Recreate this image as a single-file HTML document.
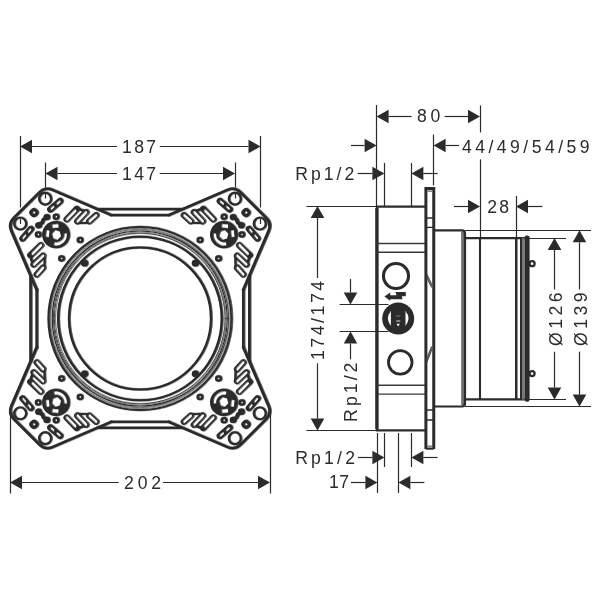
<!DOCTYPE html>
<html><head><meta charset="utf-8"><title>Dimension drawing</title>
<style>html,body{margin:0;padding:0;background:#fff;}svg{display:block;}text{font-family:"Liberation Sans",sans-serif;}svg{will-change:transform;transform:translateZ(0);}</style></head>
<body>
<svg width="600" height="600" viewBox="0 0 600 600">
<rect width="600" height="600" fill="#fff"/>
<line x1="20.50" y1="136.00" x2="20.50" y2="207.50" stroke="#2b2b2b" stroke-width="1.2" stroke-linecap="butt"/>
<line x1="260.50" y1="136.00" x2="260.50" y2="207.50" stroke="#2b2b2b" stroke-width="1.2" stroke-linecap="butt"/>
<line x1="20.50" y1="219.00" x2="20.50" y2="224.00" stroke="#2b2b2b" stroke-width="1.2" stroke-linecap="butt"/>
<line x1="260.50" y1="219.00" x2="260.50" y2="224.00" stroke="#2b2b2b" stroke-width="1.2" stroke-linecap="butt"/>
<polygon points="20.00,146.50 32.00,139.70 32.00,153.30" fill="#2b2b2b"/>
<polygon points="260.50,146.50 248.50,139.70 248.50,153.30" fill="#2b2b2b"/>
<line x1="32.00" y1="146.50" x2="117.00" y2="146.50" stroke="#2b2b2b" stroke-width="1.2" stroke-linecap="butt"/>
<line x1="159.70" y1="146.50" x2="248.50" y2="146.50" stroke="#2b2b2b" stroke-width="1.2" stroke-linecap="butt"/>
<line x1="45.50" y1="162.50" x2="45.50" y2="187.50" stroke="#2b2b2b" stroke-width="1.2" stroke-linecap="butt"/>
<line x1="235.50" y1="162.50" x2="235.50" y2="187.50" stroke="#2b2b2b" stroke-width="1.2" stroke-linecap="butt"/>
<line x1="45.50" y1="193.00" x2="45.50" y2="198.50" stroke="#2b2b2b" stroke-width="1.2" stroke-linecap="butt"/>
<line x1="235.50" y1="193.00" x2="235.50" y2="198.50" stroke="#2b2b2b" stroke-width="1.2" stroke-linecap="butt"/>
<polygon points="45.50,173.50 57.50,166.70 57.50,180.30" fill="#2b2b2b"/>
<polygon points="235.00,173.50 223.00,166.70 223.00,180.30" fill="#2b2b2b"/>
<line x1="57.50" y1="173.50" x2="117.00" y2="173.50" stroke="#2b2b2b" stroke-width="1.2" stroke-linecap="butt"/>
<line x1="159.70" y1="173.50" x2="223.00" y2="173.50" stroke="#2b2b2b" stroke-width="1.2" stroke-linecap="butt"/>
<line x1="10.50" y1="415.00" x2="10.50" y2="493.50" stroke="#2b2b2b" stroke-width="1.2" stroke-linecap="butt"/>
<line x1="270.50" y1="415.00" x2="270.50" y2="493.50" stroke="#2b2b2b" stroke-width="1.2" stroke-linecap="butt"/>
<polygon points="10.00,482.50 22.00,475.70 22.00,489.30" fill="#2b2b2b"/>
<polygon points="270.00,482.50 258.00,475.70 258.00,489.30" fill="#2b2b2b"/>
<line x1="22.00" y1="482.50" x2="118.70" y2="482.50" stroke="#2b2b2b" stroke-width="1.2" stroke-linecap="butt"/>
<line x1="163.00" y1="482.50" x2="258.00" y2="482.50" stroke="#2b2b2b" stroke-width="1.2" stroke-linecap="butt"/>
<g transform="translate(139.75 318.5)"><g id="plate" fill="none" stroke="#2b2b2b" stroke-linejoin="round" stroke-linecap="round">
<g><path d="M-28.75,-103.30 L-87.55,-128.63 Q-94.90,-131.80 -100.56,-126.14 L-126.14,-100.56 Q-131.80,-94.90 -128.63,-87.55 L-103.30,-28.75" stroke-width="2.5"/>
<g><circle cx="-94.85" cy="-119.80" r="6.0" stroke-width="1.9"/>
<circle cx="-83.95" cy="-101.80" r="2.3" stroke-width="2.0"/>
<circle cx="-59.95" cy="-78.50" r="2.3" stroke-width="2.0"/>
<circle cx="-93.15" cy="-101.40" r="3.2" fill="#2b2b2b" stroke="none"/>
<line x1="-79.95" y1="-117.40" x2="-89.55" y2="-109.10" stroke="#2b2b2b" stroke-width="6.2" stroke-linecap="round"/>
<line x1="-80.35" y1="-117.00" x2="-82.95" y2="-114.80" stroke="#fff" stroke-width="2.5" stroke-linecap="round"/>
<line x1="-86.65" y1="-111.60" x2="-88.85" y2="-109.70" stroke="#fff" stroke-width="2.5" stroke-linecap="round"/>
<line x1="-73.25" y1="-99.20" x2="-63.25" y2="-109.60" stroke="#2b2b2b" stroke-width="6.1" stroke-linecap="round"/>
<line x1="-62.65" y1="-97.10" x2="-53.95" y2="-106.30" stroke="#2b2b2b" stroke-width="6.1" stroke-linecap="round"/>
<line x1="-50.65" y1="-97.20" x2="-43.95" y2="-103.20" stroke="#2b2b2b" stroke-width="6.1" stroke-linecap="round"/>
<line x1="-62.65" y1="-109.90" x2="-56.65" y2="-107.90" stroke="#2b2b2b" stroke-width="2.2" stroke-linecap="round"/>
<line x1="-61.25" y1="-95.30" x2="-50.65" y2="-95.60" stroke="#2b2b2b" stroke-width="1.8" stroke-linecap="round"/>
<line x1="-73.25" y1="-99.20" x2="-64.95" y2="-107.60" stroke="#fff" stroke-width="3.2" stroke-linecap="round"/>
<line x1="-62.65" y1="-97.10" x2="-54.15" y2="-106.10" stroke="#fff" stroke-width="3.2" stroke-linecap="round"/>
<line x1="-50.65" y1="-97.20" x2="-44.05" y2="-103.10" stroke="#fff" stroke-width="3.2" stroke-linecap="round"/></g><g transform="matrix(0 1 1 0 0 0)"><circle cx="-94.85" cy="-119.80" r="6.0" stroke-width="1.9"/>
<circle cx="-83.95" cy="-101.80" r="2.3" stroke-width="2.0"/>
<circle cx="-59.95" cy="-78.50" r="2.3" stroke-width="2.0"/>
<circle cx="-93.15" cy="-101.40" r="3.2" fill="#2b2b2b" stroke="none"/>
<line x1="-79.95" y1="-117.40" x2="-89.55" y2="-109.10" stroke="#2b2b2b" stroke-width="6.2" stroke-linecap="round"/>
<line x1="-80.35" y1="-117.00" x2="-82.95" y2="-114.80" stroke="#fff" stroke-width="2.5" stroke-linecap="round"/>
<line x1="-86.65" y1="-111.60" x2="-88.85" y2="-109.70" stroke="#fff" stroke-width="2.5" stroke-linecap="round"/>
<line x1="-73.25" y1="-99.20" x2="-63.25" y2="-109.60" stroke="#2b2b2b" stroke-width="6.1" stroke-linecap="round"/>
<line x1="-62.65" y1="-97.10" x2="-53.95" y2="-106.30" stroke="#2b2b2b" stroke-width="6.1" stroke-linecap="round"/>
<line x1="-50.65" y1="-97.20" x2="-43.95" y2="-103.20" stroke="#2b2b2b" stroke-width="6.1" stroke-linecap="round"/>
<line x1="-62.65" y1="-109.90" x2="-56.65" y2="-107.90" stroke="#2b2b2b" stroke-width="2.2" stroke-linecap="round"/>
<line x1="-61.25" y1="-95.30" x2="-50.65" y2="-95.60" stroke="#2b2b2b" stroke-width="1.8" stroke-linecap="round"/>
<line x1="-73.25" y1="-99.20" x2="-64.95" y2="-107.60" stroke="#fff" stroke-width="3.2" stroke-linecap="round"/>
<line x1="-62.65" y1="-97.10" x2="-54.15" y2="-106.10" stroke="#fff" stroke-width="3.2" stroke-linecap="round"/>
<line x1="-50.65" y1="-97.20" x2="-44.05" y2="-103.10" stroke="#fff" stroke-width="3.2" stroke-linecap="round"/></g>
<rect x="-109.05" y="-108.60" width="5.6" height="5.6" rx="2.2" stroke-width="2.7" transform="rotate(45 -106.05 -105.60)"/>
<polyline points="-93.15,-101.40 -96.65,-98.90 -97.85,-95.60 -102.65,-93.90" stroke-width="3.4"/>
<circle cx="-83.95" cy="-83.90" r="13.7" fill="#2b2b2b" stroke="none"/>
<rect x="-88.35" y="-94.40" width="7" height="3.9" rx="0.6" fill="#fff" stroke="none" transform="rotate(-6 -84.85 -92.70)"/>
<rect x="-94.45" y="-88.30" width="3.9" height="7" rx="0.6" fill="#fff" stroke="none" transform="rotate(6 -92.75 -84.80)"/>
<path d="M-86.36,-74.92 A9.3,9.3 0 0 0 -74.72,-85.03" stroke="#fff" stroke-width="3.5" stroke-linecap="butt"/>
<polygon points="-78.72,-82.18 -82.33,-78.57 -87.26,-79.89 -88.58,-84.82 -84.97,-88.43 -80.04,-87.11" fill="#fff" stroke="none"/></g>
<g transform="scale(-1,1)"><path d="M-28.75,-103.30 L-87.55,-128.63 Q-94.90,-131.80 -100.56,-126.14 L-126.14,-100.56 Q-131.80,-94.90 -128.63,-87.55 L-103.30,-28.75" stroke-width="2.5"/>
<g><circle cx="-94.85" cy="-119.80" r="6.0" stroke-width="1.9"/>
<circle cx="-83.95" cy="-101.80" r="2.3" stroke-width="2.0"/>
<circle cx="-59.95" cy="-78.50" r="2.3" stroke-width="2.0"/>
<circle cx="-93.15" cy="-101.40" r="3.2" fill="#2b2b2b" stroke="none"/>
<line x1="-79.95" y1="-117.40" x2="-89.55" y2="-109.10" stroke="#2b2b2b" stroke-width="6.2" stroke-linecap="round"/>
<line x1="-80.35" y1="-117.00" x2="-82.95" y2="-114.80" stroke="#fff" stroke-width="2.5" stroke-linecap="round"/>
<line x1="-86.65" y1="-111.60" x2="-88.85" y2="-109.70" stroke="#fff" stroke-width="2.5" stroke-linecap="round"/>
<line x1="-73.25" y1="-99.20" x2="-63.25" y2="-109.60" stroke="#2b2b2b" stroke-width="6.1" stroke-linecap="round"/>
<line x1="-62.65" y1="-97.10" x2="-53.95" y2="-106.30" stroke="#2b2b2b" stroke-width="6.1" stroke-linecap="round"/>
<line x1="-50.65" y1="-97.20" x2="-43.95" y2="-103.20" stroke="#2b2b2b" stroke-width="6.1" stroke-linecap="round"/>
<line x1="-62.65" y1="-109.90" x2="-56.65" y2="-107.90" stroke="#2b2b2b" stroke-width="2.2" stroke-linecap="round"/>
<line x1="-61.25" y1="-95.30" x2="-50.65" y2="-95.60" stroke="#2b2b2b" stroke-width="1.8" stroke-linecap="round"/>
<line x1="-73.25" y1="-99.20" x2="-64.95" y2="-107.60" stroke="#fff" stroke-width="3.2" stroke-linecap="round"/>
<line x1="-62.65" y1="-97.10" x2="-54.15" y2="-106.10" stroke="#fff" stroke-width="3.2" stroke-linecap="round"/>
<line x1="-50.65" y1="-97.20" x2="-44.05" y2="-103.10" stroke="#fff" stroke-width="3.2" stroke-linecap="round"/></g><g transform="matrix(0 1 1 0 0 0)"><circle cx="-94.85" cy="-119.80" r="6.0" stroke-width="1.9"/>
<circle cx="-83.95" cy="-101.80" r="2.3" stroke-width="2.0"/>
<circle cx="-59.95" cy="-78.50" r="2.3" stroke-width="2.0"/>
<circle cx="-93.15" cy="-101.40" r="3.2" fill="#2b2b2b" stroke="none"/>
<line x1="-79.95" y1="-117.40" x2="-89.55" y2="-109.10" stroke="#2b2b2b" stroke-width="6.2" stroke-linecap="round"/>
<line x1="-80.35" y1="-117.00" x2="-82.95" y2="-114.80" stroke="#fff" stroke-width="2.5" stroke-linecap="round"/>
<line x1="-86.65" y1="-111.60" x2="-88.85" y2="-109.70" stroke="#fff" stroke-width="2.5" stroke-linecap="round"/>
<line x1="-73.25" y1="-99.20" x2="-63.25" y2="-109.60" stroke="#2b2b2b" stroke-width="6.1" stroke-linecap="round"/>
<line x1="-62.65" y1="-97.10" x2="-53.95" y2="-106.30" stroke="#2b2b2b" stroke-width="6.1" stroke-linecap="round"/>
<line x1="-50.65" y1="-97.20" x2="-43.95" y2="-103.20" stroke="#2b2b2b" stroke-width="6.1" stroke-linecap="round"/>
<line x1="-62.65" y1="-109.90" x2="-56.65" y2="-107.90" stroke="#2b2b2b" stroke-width="2.2" stroke-linecap="round"/>
<line x1="-61.25" y1="-95.30" x2="-50.65" y2="-95.60" stroke="#2b2b2b" stroke-width="1.8" stroke-linecap="round"/>
<line x1="-73.25" y1="-99.20" x2="-64.95" y2="-107.60" stroke="#fff" stroke-width="3.2" stroke-linecap="round"/>
<line x1="-62.65" y1="-97.10" x2="-54.15" y2="-106.10" stroke="#fff" stroke-width="3.2" stroke-linecap="round"/>
<line x1="-50.65" y1="-97.20" x2="-44.05" y2="-103.10" stroke="#fff" stroke-width="3.2" stroke-linecap="round"/></g>
<rect x="-109.05" y="-108.60" width="5.6" height="5.6" rx="2.2" stroke-width="2.7" transform="rotate(45 -106.05 -105.60)"/>
<polyline points="-93.15,-101.40 -96.65,-98.90 -97.85,-95.60 -102.65,-93.90" stroke-width="3.4"/>
<circle cx="-83.95" cy="-83.90" r="13.7" fill="#2b2b2b" stroke="none"/>
<rect x="-88.35" y="-94.40" width="7" height="3.9" rx="0.6" fill="#fff" stroke="none" transform="rotate(-6 -84.85 -92.70)"/>
<rect x="-94.45" y="-88.30" width="3.9" height="7" rx="0.6" fill="#fff" stroke="none" transform="rotate(6 -92.75 -84.80)"/>
<path d="M-86.36,-74.92 A9.3,9.3 0 0 0 -74.72,-85.03" stroke="#fff" stroke-width="3.5" stroke-linecap="butt"/>
<polygon points="-78.72,-82.18 -82.33,-78.57 -87.26,-79.89 -88.58,-84.82 -84.97,-88.43 -80.04,-87.11" fill="#fff" stroke="none"/></g>
<g transform="scale(1,-1)"><path d="M-28.75,-103.30 L-87.55,-128.63 Q-94.90,-131.80 -100.56,-126.14 L-126.14,-100.56 Q-131.80,-94.90 -128.63,-87.55 L-103.30,-28.75" stroke-width="2.5"/>
<g><circle cx="-94.85" cy="-119.80" r="6.0" stroke-width="1.9"/>
<circle cx="-83.95" cy="-101.80" r="2.3" stroke-width="2.0"/>
<circle cx="-59.95" cy="-78.50" r="2.3" stroke-width="2.0"/>
<circle cx="-93.15" cy="-101.40" r="3.2" fill="#2b2b2b" stroke="none"/>
<line x1="-79.95" y1="-117.40" x2="-89.55" y2="-109.10" stroke="#2b2b2b" stroke-width="6.2" stroke-linecap="round"/>
<line x1="-80.35" y1="-117.00" x2="-82.95" y2="-114.80" stroke="#fff" stroke-width="2.5" stroke-linecap="round"/>
<line x1="-86.65" y1="-111.60" x2="-88.85" y2="-109.70" stroke="#fff" stroke-width="2.5" stroke-linecap="round"/>
<line x1="-73.25" y1="-99.20" x2="-63.25" y2="-109.60" stroke="#2b2b2b" stroke-width="6.1" stroke-linecap="round"/>
<line x1="-62.65" y1="-97.10" x2="-53.95" y2="-106.30" stroke="#2b2b2b" stroke-width="6.1" stroke-linecap="round"/>
<line x1="-50.65" y1="-97.20" x2="-43.95" y2="-103.20" stroke="#2b2b2b" stroke-width="6.1" stroke-linecap="round"/>
<line x1="-62.65" y1="-109.90" x2="-56.65" y2="-107.90" stroke="#2b2b2b" stroke-width="2.2" stroke-linecap="round"/>
<line x1="-61.25" y1="-95.30" x2="-50.65" y2="-95.60" stroke="#2b2b2b" stroke-width="1.8" stroke-linecap="round"/>
<line x1="-73.25" y1="-99.20" x2="-64.95" y2="-107.60" stroke="#fff" stroke-width="3.2" stroke-linecap="round"/>
<line x1="-62.65" y1="-97.10" x2="-54.15" y2="-106.10" stroke="#fff" stroke-width="3.2" stroke-linecap="round"/>
<line x1="-50.65" y1="-97.20" x2="-44.05" y2="-103.10" stroke="#fff" stroke-width="3.2" stroke-linecap="round"/></g><g transform="matrix(0 1 1 0 0 0)"><circle cx="-94.85" cy="-119.80" r="6.0" stroke-width="1.9"/>
<circle cx="-83.95" cy="-101.80" r="2.3" stroke-width="2.0"/>
<circle cx="-59.95" cy="-78.50" r="2.3" stroke-width="2.0"/>
<circle cx="-93.15" cy="-101.40" r="3.2" fill="#2b2b2b" stroke="none"/>
<line x1="-79.95" y1="-117.40" x2="-89.55" y2="-109.10" stroke="#2b2b2b" stroke-width="6.2" stroke-linecap="round"/>
<line x1="-80.35" y1="-117.00" x2="-82.95" y2="-114.80" stroke="#fff" stroke-width="2.5" stroke-linecap="round"/>
<line x1="-86.65" y1="-111.60" x2="-88.85" y2="-109.70" stroke="#fff" stroke-width="2.5" stroke-linecap="round"/>
<line x1="-73.25" y1="-99.20" x2="-63.25" y2="-109.60" stroke="#2b2b2b" stroke-width="6.1" stroke-linecap="round"/>
<line x1="-62.65" y1="-97.10" x2="-53.95" y2="-106.30" stroke="#2b2b2b" stroke-width="6.1" stroke-linecap="round"/>
<line x1="-50.65" y1="-97.20" x2="-43.95" y2="-103.20" stroke="#2b2b2b" stroke-width="6.1" stroke-linecap="round"/>
<line x1="-62.65" y1="-109.90" x2="-56.65" y2="-107.90" stroke="#2b2b2b" stroke-width="2.2" stroke-linecap="round"/>
<line x1="-61.25" y1="-95.30" x2="-50.65" y2="-95.60" stroke="#2b2b2b" stroke-width="1.8" stroke-linecap="round"/>
<line x1="-73.25" y1="-99.20" x2="-64.95" y2="-107.60" stroke="#fff" stroke-width="3.2" stroke-linecap="round"/>
<line x1="-62.65" y1="-97.10" x2="-54.15" y2="-106.10" stroke="#fff" stroke-width="3.2" stroke-linecap="round"/>
<line x1="-50.65" y1="-97.20" x2="-44.05" y2="-103.10" stroke="#fff" stroke-width="3.2" stroke-linecap="round"/></g>
<rect x="-109.05" y="-108.60" width="5.6" height="5.6" rx="2.2" stroke-width="2.7" transform="rotate(45 -106.05 -105.60)"/>
<polyline points="-93.15,-101.40 -96.65,-98.90 -97.85,-95.60 -102.65,-93.90" stroke-width="3.4"/>
<circle cx="-83.95" cy="-83.90" r="13.7" fill="#2b2b2b" stroke="none"/>
<rect x="-88.35" y="-94.40" width="7" height="3.9" rx="0.6" fill="#fff" stroke="none" transform="rotate(-6 -84.85 -92.70)"/>
<rect x="-94.45" y="-88.30" width="3.9" height="7" rx="0.6" fill="#fff" stroke="none" transform="rotate(6 -92.75 -84.80)"/>
<path d="M-86.36,-74.92 A9.3,9.3 0 0 0 -74.72,-85.03" stroke="#fff" stroke-width="3.5" stroke-linecap="butt"/>
<polygon points="-78.72,-82.18 -82.33,-78.57 -87.26,-79.89 -88.58,-84.82 -84.97,-88.43 -80.04,-87.11" fill="#fff" stroke="none"/></g>
<g transform="scale(-1,-1)"><path d="M-28.75,-103.30 L-87.55,-128.63 Q-94.90,-131.80 -100.56,-126.14 L-126.14,-100.56 Q-131.80,-94.90 -128.63,-87.55 L-103.30,-28.75" stroke-width="2.5"/>
<g><circle cx="-94.85" cy="-119.80" r="6.0" stroke-width="1.9"/>
<circle cx="-83.95" cy="-101.80" r="2.3" stroke-width="2.0"/>
<circle cx="-59.95" cy="-78.50" r="2.3" stroke-width="2.0"/>
<circle cx="-93.15" cy="-101.40" r="3.2" fill="#2b2b2b" stroke="none"/>
<line x1="-79.95" y1="-117.40" x2="-89.55" y2="-109.10" stroke="#2b2b2b" stroke-width="6.2" stroke-linecap="round"/>
<line x1="-80.35" y1="-117.00" x2="-82.95" y2="-114.80" stroke="#fff" stroke-width="2.5" stroke-linecap="round"/>
<line x1="-86.65" y1="-111.60" x2="-88.85" y2="-109.70" stroke="#fff" stroke-width="2.5" stroke-linecap="round"/>
<line x1="-73.25" y1="-99.20" x2="-63.25" y2="-109.60" stroke="#2b2b2b" stroke-width="6.1" stroke-linecap="round"/>
<line x1="-62.65" y1="-97.10" x2="-53.95" y2="-106.30" stroke="#2b2b2b" stroke-width="6.1" stroke-linecap="round"/>
<line x1="-50.65" y1="-97.20" x2="-43.95" y2="-103.20" stroke="#2b2b2b" stroke-width="6.1" stroke-linecap="round"/>
<line x1="-62.65" y1="-109.90" x2="-56.65" y2="-107.90" stroke="#2b2b2b" stroke-width="2.2" stroke-linecap="round"/>
<line x1="-61.25" y1="-95.30" x2="-50.65" y2="-95.60" stroke="#2b2b2b" stroke-width="1.8" stroke-linecap="round"/>
<line x1="-73.25" y1="-99.20" x2="-64.95" y2="-107.60" stroke="#fff" stroke-width="3.2" stroke-linecap="round"/>
<line x1="-62.65" y1="-97.10" x2="-54.15" y2="-106.10" stroke="#fff" stroke-width="3.2" stroke-linecap="round"/>
<line x1="-50.65" y1="-97.20" x2="-44.05" y2="-103.10" stroke="#fff" stroke-width="3.2" stroke-linecap="round"/></g><g transform="matrix(0 1 1 0 0 0)"><circle cx="-94.85" cy="-119.80" r="6.0" stroke-width="1.9"/>
<circle cx="-83.95" cy="-101.80" r="2.3" stroke-width="2.0"/>
<circle cx="-59.95" cy="-78.50" r="2.3" stroke-width="2.0"/>
<circle cx="-93.15" cy="-101.40" r="3.2" fill="#2b2b2b" stroke="none"/>
<line x1="-79.95" y1="-117.40" x2="-89.55" y2="-109.10" stroke="#2b2b2b" stroke-width="6.2" stroke-linecap="round"/>
<line x1="-80.35" y1="-117.00" x2="-82.95" y2="-114.80" stroke="#fff" stroke-width="2.5" stroke-linecap="round"/>
<line x1="-86.65" y1="-111.60" x2="-88.85" y2="-109.70" stroke="#fff" stroke-width="2.5" stroke-linecap="round"/>
<line x1="-73.25" y1="-99.20" x2="-63.25" y2="-109.60" stroke="#2b2b2b" stroke-width="6.1" stroke-linecap="round"/>
<line x1="-62.65" y1="-97.10" x2="-53.95" y2="-106.30" stroke="#2b2b2b" stroke-width="6.1" stroke-linecap="round"/>
<line x1="-50.65" y1="-97.20" x2="-43.95" y2="-103.20" stroke="#2b2b2b" stroke-width="6.1" stroke-linecap="round"/>
<line x1="-62.65" y1="-109.90" x2="-56.65" y2="-107.90" stroke="#2b2b2b" stroke-width="2.2" stroke-linecap="round"/>
<line x1="-61.25" y1="-95.30" x2="-50.65" y2="-95.60" stroke="#2b2b2b" stroke-width="1.8" stroke-linecap="round"/>
<line x1="-73.25" y1="-99.20" x2="-64.95" y2="-107.60" stroke="#fff" stroke-width="3.2" stroke-linecap="round"/>
<line x1="-62.65" y1="-97.10" x2="-54.15" y2="-106.10" stroke="#fff" stroke-width="3.2" stroke-linecap="round"/>
<line x1="-50.65" y1="-97.20" x2="-44.05" y2="-103.10" stroke="#fff" stroke-width="3.2" stroke-linecap="round"/></g>
<rect x="-109.05" y="-108.60" width="5.6" height="5.6" rx="2.2" stroke-width="2.7" transform="rotate(45 -106.05 -105.60)"/>
<polyline points="-93.15,-101.40 -96.65,-98.90 -97.85,-95.60 -102.65,-93.90" stroke-width="3.4"/>
<circle cx="-83.95" cy="-83.90" r="13.7" fill="#2b2b2b" stroke="none"/>
<rect x="-88.35" y="-94.40" width="7" height="3.9" rx="0.6" fill="#fff" stroke="none" transform="rotate(-6 -84.85 -92.70)"/>
<rect x="-94.45" y="-88.30" width="3.9" height="7" rx="0.6" fill="#fff" stroke="none" transform="rotate(6 -92.75 -84.80)"/>
<path d="M-86.36,-74.92 A9.3,9.3 0 0 0 -74.72,-85.03" stroke="#fff" stroke-width="3.5" stroke-linecap="butt"/>
<polygon points="-78.72,-82.18 -82.33,-78.57 -87.26,-79.89 -88.58,-84.82 -84.97,-88.43 -80.04,-87.11" fill="#fff" stroke="none"/></g>
<g transform="rotate(0)"><line x1="-43.5" y1="-109.4" x2="43.5" y2="-109.4" stroke-width="2.3" stroke-linecap="butt"/><line x1="-29" y1="-103.3" x2="29" y2="-103.3" stroke-width="2.2"/></g>
<g transform="rotate(90)"><line x1="-43.5" y1="-109.4" x2="43.5" y2="-109.4" stroke-width="2.3" stroke-linecap="butt"/><line x1="-29" y1="-103.3" x2="29" y2="-103.3" stroke-width="2.2"/></g>
<g transform="rotate(180)"><line x1="-43.5" y1="-109.4" x2="43.5" y2="-109.4" stroke-width="2.3" stroke-linecap="butt"/><line x1="-29" y1="-103.3" x2="29" y2="-103.3" stroke-width="2.2"/></g>
<g transform="rotate(270)"><line x1="-43.5" y1="-109.4" x2="43.5" y2="-109.4" stroke-width="2.3" stroke-linecap="butt"/><line x1="-29" y1="-103.3" x2="29" y2="-103.3" stroke-width="2.2"/></g>
<circle r="88" stroke="#d6d6d6" stroke-width="6"/>
<circle r="91.5" stroke="#2b2b2b" stroke-width="1.8"/>
<circle r="89.2" stroke="#555" stroke-width="0.8"/>
<circle r="87.5" stroke="#2b2b2b" stroke-width="1.2"/>
<circle r="85.4" stroke="#333" stroke-width="0.9"/>
<circle r="81.8" stroke="#2b2b2b" stroke-width="2.0"/>
<circle r="71.0" stroke="#2b2b2b" stroke-width="1.9"/>
<circle cx="55.37" cy="55.37" r="3.4" fill="#2b2b2b" stroke="none"/>
<circle cx="-55.37" cy="55.37" r="3.4" fill="#2b2b2b" stroke="none"/>
<circle cx="-55.37" cy="-55.37" r="3.4" fill="#2b2b2b" stroke="none"/>
<circle cx="55.37" cy="-55.37" r="3.4" fill="#2b2b2b" stroke="none"/>
</g></g>
<use href="#plate" transform="translate(140.75 318.5)" style="mix-blend-mode:darken"/>
<line x1="376.50" y1="105.00" x2="376.50" y2="206.00" stroke="#2b2b2b" stroke-width="1.2" stroke-linecap="butt"/>
<line x1="480.50" y1="105.40" x2="480.50" y2="132.40" stroke="#2b2b2b" stroke-width="1.2" stroke-linecap="butt"/>
<line x1="480.50" y1="159.40" x2="480.50" y2="238.00" stroke="#2b2b2b" stroke-width="1.2" stroke-linecap="butt"/>
<polygon points="376.60,116.50 388.60,109.70 388.60,123.30" fill="#2b2b2b"/>
<polygon points="480.00,116.50 468.00,109.70 468.00,123.30" fill="#2b2b2b"/>
<line x1="388.60" y1="116.50" x2="411.60" y2="116.50" stroke="#2b2b2b" stroke-width="1.2" stroke-linecap="butt"/>
<line x1="444.60" y1="116.50" x2="468.00" y2="116.50" stroke="#2b2b2b" stroke-width="1.2" stroke-linecap="butt"/>
<polygon points="376.60,145.50 364.60,138.70 364.60,152.30" fill="#2b2b2b"/>
<line x1="351.00" y1="145.50" x2="364.60" y2="145.50" stroke="#2b2b2b" stroke-width="1.2" stroke-linecap="butt"/>
<line x1="433.50" y1="134.50" x2="433.50" y2="185.50" stroke="#2b2b2b" stroke-width="1.2" stroke-linecap="butt"/>
<polygon points="433.60,145.50 445.60,138.70 445.60,152.30" fill="#2b2b2b"/>
<line x1="445.60" y1="145.50" x2="459.00" y2="145.50" stroke="#2b2b2b" stroke-width="1.2" stroke-linecap="butt"/>
<line x1="384.50" y1="163.00" x2="384.50" y2="206.00" stroke="#2b2b2b" stroke-width="1.2" stroke-linecap="butt"/>
<line x1="411.50" y1="163.00" x2="411.50" y2="206.00" stroke="#2b2b2b" stroke-width="1.2" stroke-linecap="butt"/>
<polygon points="384.40,173.50 372.40,166.70 372.40,180.30" fill="#2b2b2b"/>
<line x1="357.60" y1="173.50" x2="372.40" y2="173.50" stroke="#2b2b2b" stroke-width="1.2" stroke-linecap="butt"/>
<polygon points="411.40,173.50 423.40,166.70 423.40,180.30" fill="#2b2b2b"/>
<line x1="423.40" y1="173.50" x2="437.60" y2="173.50" stroke="#2b2b2b" stroke-width="1.2" stroke-linecap="butt"/>
<line x1="306.40" y1="206.50" x2="376.00" y2="206.50" stroke="#2b2b2b" stroke-width="1.2" stroke-linecap="butt"/>
<line x1="306.40" y1="430.50" x2="376.00" y2="430.50" stroke="#2b2b2b" stroke-width="1.2" stroke-linecap="butt"/>
<polygon points="317.50,206.00 310.70,218.00 324.30,218.00" fill="#2b2b2b"/>
<polygon points="317.50,430.60 310.70,418.60 324.30,418.60" fill="#2b2b2b"/>
<line x1="317.50" y1="218.00" x2="317.50" y2="278.00" stroke="#2b2b2b" stroke-width="1.2" stroke-linecap="butt"/>
<line x1="317.50" y1="363.30" x2="317.50" y2="418.60" stroke="#2b2b2b" stroke-width="1.2" stroke-linecap="butt"/>
<line x1="339.60" y1="304.50" x2="388.50" y2="304.50" stroke="#2b2b2b" stroke-width="1.2" stroke-linecap="butt"/>
<line x1="339.60" y1="331.50" x2="388.50" y2="331.50" stroke="#2b2b2b" stroke-width="1.2" stroke-linecap="butt"/>
<polygon points="350.50,304.60 343.70,292.60 357.30,292.60" fill="#2b2b2b"/>
<polygon points="350.50,331.60 343.70,343.60 357.30,343.60" fill="#2b2b2b"/>
<line x1="350.50" y1="279.00" x2="350.50" y2="292.60" stroke="#2b2b2b" stroke-width="1.2" stroke-linecap="butt"/>
<line x1="350.50" y1="343.60" x2="350.50" y2="359.30" stroke="#2b2b2b" stroke-width="1.2" stroke-linecap="butt"/>
<line x1="516.50" y1="196.00" x2="516.50" y2="238.00" stroke="#2b2b2b" stroke-width="1.2" stroke-linecap="butt"/>
<polygon points="480.00,206.50 468.00,199.70 468.00,213.30" fill="#2b2b2b"/>
<line x1="454.00" y1="206.50" x2="468.00" y2="206.50" stroke="#2b2b2b" stroke-width="1.2" stroke-linecap="butt"/>
<polygon points="516.00,206.50 528.00,199.70 528.00,213.30" fill="#2b2b2b"/>
<line x1="528.00" y1="206.50" x2="542.40" y2="206.50" stroke="#2b2b2b" stroke-width="1.2" stroke-linecap="butt"/>
<line x1="465.00" y1="230.50" x2="591.00" y2="230.50" stroke="#2b2b2b" stroke-width="1.2" stroke-linecap="butt"/>
<line x1="465.00" y1="406.50" x2="591.00" y2="406.50" stroke="#2b2b2b" stroke-width="1.2" stroke-linecap="butt"/>
<line x1="528.00" y1="238.50" x2="566.00" y2="238.50" stroke="#2b2b2b" stroke-width="1.2" stroke-linecap="butt"/>
<line x1="528.00" y1="399.50" x2="566.00" y2="399.50" stroke="#2b2b2b" stroke-width="1.2" stroke-linecap="butt"/>
<polygon points="554.50,238.00 547.70,250.00 561.30,250.00" fill="#2b2b2b"/>
<polygon points="554.50,399.60 547.70,387.60 561.30,387.60" fill="#2b2b2b"/>
<polygon points="579.50,230.30 572.70,242.30 586.30,242.30" fill="#2b2b2b"/>
<polygon points="579.50,406.50 572.70,394.50 586.30,394.50" fill="#2b2b2b"/>
<line x1="554.50" y1="250.00" x2="554.50" y2="289.50" stroke="#2b2b2b" stroke-width="1.2" stroke-linecap="butt"/>
<line x1="554.50" y1="351.70" x2="554.50" y2="387.60" stroke="#2b2b2b" stroke-width="1.2" stroke-linecap="butt"/>
<line x1="579.50" y1="242.30" x2="579.50" y2="289.50" stroke="#2b2b2b" stroke-width="1.2" stroke-linecap="butt"/>
<line x1="579.50" y1="351.70" x2="579.50" y2="394.50" stroke="#2b2b2b" stroke-width="1.2" stroke-linecap="butt"/>
<line x1="377.50" y1="433.00" x2="377.50" y2="493.00" stroke="#2b2b2b" stroke-width="1.2" stroke-linecap="butt"/>
<line x1="398.50" y1="433.00" x2="398.50" y2="493.00" stroke="#2b2b2b" stroke-width="1.2" stroke-linecap="butt"/>
<line x1="384.50" y1="433.00" x2="384.50" y2="467.00" stroke="#2b2b2b" stroke-width="1.2" stroke-linecap="butt"/>
<line x1="411.50" y1="433.00" x2="411.50" y2="467.00" stroke="#2b2b2b" stroke-width="1.2" stroke-linecap="butt"/>
<polygon points="384.40,457.50 372.40,450.70 372.40,464.30" fill="#2b2b2b"/>
<line x1="358.00" y1="457.50" x2="372.40" y2="457.50" stroke="#2b2b2b" stroke-width="1.2" stroke-linecap="butt"/>
<polygon points="411.40,457.50 423.40,450.70 423.40,464.30" fill="#2b2b2b"/>
<line x1="423.40" y1="457.50" x2="437.60" y2="457.50" stroke="#2b2b2b" stroke-width="1.2" stroke-linecap="butt"/>
<polygon points="377.40,482.50 365.40,475.70 365.40,489.30" fill="#2b2b2b"/>
<line x1="351.00" y1="482.50" x2="365.40" y2="482.50" stroke="#2b2b2b" stroke-width="1.2" stroke-linecap="butt"/>
<polygon points="398.40,482.50 410.40,475.70 410.40,489.30" fill="#2b2b2b"/>
<line x1="410.40" y1="482.50" x2="424.40" y2="482.50" stroke="#2b2b2b" stroke-width="1.2" stroke-linecap="butt"/>
<g fill="none" stroke="#2b2b2b" stroke-linejoin="miter">
<path d="M426,206.6 H377 V430.4 H426" stroke-width="2.4"/>
<line x1="376.9" y1="208" x2="376.9" y2="429" stroke-width="3.3"/>
<line x1="377" y1="243.5" x2="426" y2="243.5" stroke="#3a3a3a" stroke-width="1.4"/>
<line x1="377" y1="252.3" x2="426" y2="252.3" stroke="#3a3a3a" stroke-width="1.4"/>
<line x1="377" y1="385.2" x2="426" y2="385.2" stroke="#3a3a3a" stroke-width="1.4"/>
<line x1="377" y1="394.1" x2="426" y2="394.1" stroke="#3a3a3a" stroke-width="1.4"/>
<path d="M425.9,449 V188.6 H433.75 V449" stroke-width="3.0"/>
<path d="M425.9,448.6 H433.75" stroke-width="2.2"/>
<path d="M427,218 H433 M427,227.3 H433 M427,410 H433 M427,420 H433" stroke-width="1.3"/>
<path d="M427.4,191.2 H432.4 M427.4,446.2 H432.4" stroke="#666" stroke-width="1.2"/>
<path d="M426.5,273.5 L432.4,286 M426.5,276.5 L431.6,287.5 M426.5,363 L432.4,348 M426.5,359.5 L431.6,346.5" stroke="#444" stroke-width="1.1"/>
<line x1="462.6" y1="232" x2="462.6" y2="405" stroke="#707070" stroke-width="2.9"/>
<path d="M434,230.3 H461.8 Q465,230.3 465,233.5 V403.3 Q465,406.5 461.8,406.5 H434" stroke-width="2.2"/>
<path d="M465,238.1 H525 M465,399.4 H525" stroke-width="2.2"/>
<line x1="480" y1="238" x2="480" y2="399.6" stroke-width="2.1"/>
<line x1="516.25" y1="238" x2="516.25" y2="399.6" stroke-width="2.5"/>
<line x1="521" y1="238" x2="521" y2="399.6" stroke-width="2.0"/>
<line x1="523.3" y1="238" x2="523.3" y2="399.6" stroke="#777" stroke-width="2.6"/>
<rect x="524.6" y="235.4" width="5.0" height="166.4" rx="2.2" fill="#2b2b2b" stroke="none"/>
<circle cx="532.1" cy="263.7" r="2.5" stroke-width="2.3" fill="#fff"/>
<circle cx="532.1" cy="373.6" r="2.5" stroke-width="2.3" fill="#fff"/>
<circle cx="396" cy="276" r="12.5" stroke-width="3.1"/>
<circle cx="400.25" cy="362.35" r="11.8" stroke-width="2.8"/>
<circle cx="398.2" cy="318.5" r="16" fill="#2b2b2b" stroke="none"/>
<circle cx="398.2" cy="318.5" r="10.3" fill="#fff" stroke="none"/>
<rect x="390.9" y="305" width="14.6" height="27" rx="4" fill="#2b2b2b" stroke="none"/>
<path d="M396.2,316 H400.2" stroke="#888" stroke-width="0.9"/>
<path d="M396.2,321 H400.2" stroke="#ddd" stroke-width="1"/>
<path d="M396.6,323.8 H399.8 L398.2,326.6 Z" fill="#fff" stroke="none"/>
<path d="M384.4,296.6 L390.2,292.4 V295.2 H396.6 L395.4,292 H405.8 V296.2 H401.8 L402.6,299.2 H390.2 V300.8 Z" fill="#2b2b2b" stroke="none"/>
</g>
<text x="122.00" y="153.00" font-size="17.6" textLength="34.10" lengthAdjust="spacing" fill="#2b2b2b">187</text>
<text x="122.00" y="180.00" font-size="17.6" textLength="34.10" lengthAdjust="spacing" fill="#2b2b2b">147</text>
<text x="124.10" y="489.00" font-size="17.6" textLength="37.00" lengthAdjust="spacing" fill="#2b2b2b">202</text>
<text x="417.00" y="122.40" font-size="17.6" textLength="23.20" lengthAdjust="spacing" fill="#2b2b2b">80</text>
<text x="462.00" y="152.50" font-size="17.6" textLength="127.50" lengthAdjust="spacing" fill="#2b2b2b">44/49/54/59</text>
<text x="295.20" y="180.40" font-size="17.6" textLength="59.00" lengthAdjust="spacing" fill="#2b2b2b">Rp1/2</text>
<text x="487.20" y="213.00" font-size="17.6" textLength="21.80" lengthAdjust="spacing" fill="#2b2b2b">28</text>
<text x="295.20" y="463.60" font-size="17.6" textLength="59.80" lengthAdjust="spacing" fill="#2b2b2b">Rp1/2</text>
<text x="329.00" y="488.00" font-size="17.6" textLength="20.00" lengthAdjust="spacing" fill="#2b2b2b">17</text>
<text x="324.00" y="360.10" font-size="17.6" textLength="79.20" lengthAdjust="spacing" fill="#2b2b2b" transform="rotate(-90 324.00 360.10)">174/174</text>
<text x="356.70" y="421.90" font-size="17.6" textLength="59.30" lengthAdjust="spacing" fill="#2b2b2b" transform="rotate(-90 356.70 421.90)">Rp1/2</text>
<text x="561.80" y="345.90" font-size="17.6" textLength="53.40" lengthAdjust="spacing" fill="#2b2b2b" transform="rotate(-90 561.80 345.90)">Ø126</text>
<text x="586.70" y="345.90" font-size="17.6" textLength="53.40" lengthAdjust="spacing" fill="#2b2b2b" transform="rotate(-90 586.70 345.90)">Ø139</text>
</svg>
</body></html>
